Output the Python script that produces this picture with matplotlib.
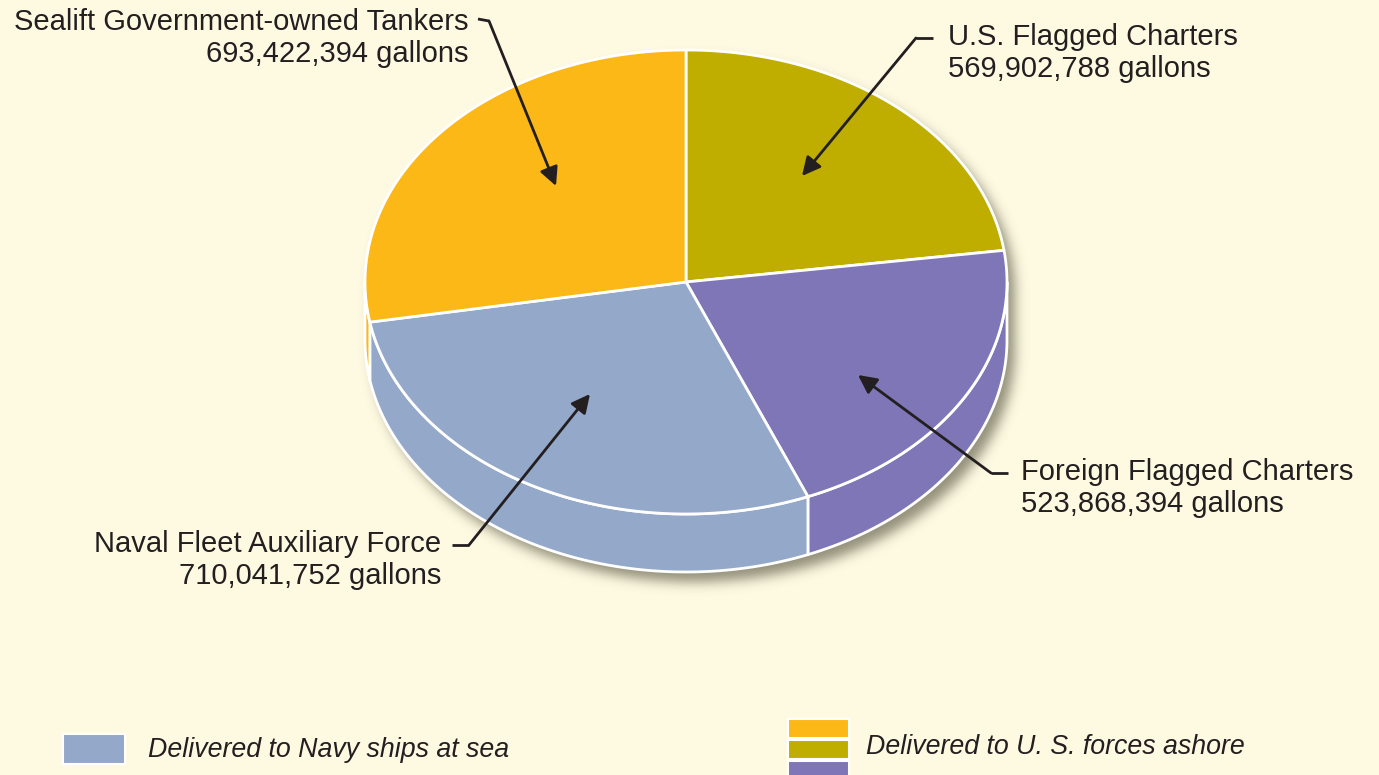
import numpy as np
import matplotlib
matplotlib.use("Agg")
import matplotlib.pyplot as plt
from matplotlib.patches import Polygon, Rectangle

# slices, clockwise from 12 o'clock
labels = ["U.S. Flagged Charters", "Foreign Flagged Charters",
          "Naval Fleet Auxiliary Force", "Sealift Government-owned Tankers"]
gallons = [569902788, 523868394, 710041752, 693422394]
colors = ["#BFAE00", "#7E76B6", "#94A8C9", "#FBB816"]
legend_labels = ["Delivered to Navy ships at sea", "Delivered to U. S. forces ashore"]

W, H = 1379, 775
BG = "#FEFAE2"
INK = "#231F20"

cx, cy = 686, 282      # centre of top face (pixels)
rx, ry = 321, 232      # top face radii
depth = 58             # wall height

fig = plt.figure(figsize=(W / 100, H / 100), dpi=100, facecolor=BG)
ax = fig.add_axes([0, 0, 1, 1])
ax.set_xlim(0, W)
ax.set_ylim(H, 0)
ax.set_facecolor(BG)
ax.axis("off")

rcfont = ["Liberation Sans", "DejaVu Sans"]


def pt(t, dz=0.0):
    t = np.radians(t)
    return np.column_stack([cx + rx * np.cos(t), cy - ry * np.sin(t) + dz])


# slice angles
vals = np.array(gallons, dtype=float)
span = vals / vals.sum() * 360
hi = 90 - np.concatenate([[0], np.cumsum(span)[:-1]])
lo = hi - span

# soft drop shadow (blurred mask of the silhouette)
yy, xx = np.mgrid[0:H, 0:W] + 0.5
sx, sy = 8, 10
inside = (((xx - cx - sx) / rx) ** 2 + ((yy - cy - sy) / ry) ** 2 <= 1) | \
         (((xx - cx - sx) / rx) ** 2 + ((yy - cy - depth - sy) / ry) ** 2 <= 1) | \
         ((np.abs(xx - cx - sx) <= rx) & (yy >= cy + sy) & (yy <= cy + depth + sy))
mask = inside.astype(float)
sig = 6.0
k = np.exp(-0.5 * (np.arange(-20, 21) / sig) ** 2)
k /= k.sum()
mask = np.apply_along_axis(lambda r: np.convolve(r, k, "same"), 1, mask)
mask = np.apply_along_axis(lambda c: np.convolve(c, k, "same"), 0, mask)
shadow = np.zeros((H, W, 4))
shadow[..., 0] = 0.40
shadow[..., 1] = 0.39
shadow[..., 2] = 0.31
shadow[..., 3] = mask * 0.7
ax.imshow(shadow, extent=(0, W, H, 0), zorder=1, interpolation="bilinear")

# side walls (front half only)
for a, b, c in zip(lo, hi, colors):
    for off in (0, -360):
        l2, h2 = max(a, -180 + off), min(b, 0 + off)
        if h2 <= l2:
            continue
        ts = np.linspace(l2, h2, 80)
        poly = np.vstack([pt(ts), pt(ts[::-1], depth)])
        ax.add_patch(Polygon(poly, closed=True, facecolor=c, edgecolor="white",
                             lw=2, joinstyle="round", zorder=2))

# top face
for a, b, c in zip(lo, hi, colors):
    ts = np.linspace(a, b, 200)
    poly = np.vstack([[cx, cy], pt(ts)])
    ax.add_patch(Polygon(poly, closed=True, facecolor=c, edgecolor="white",
                         lw=2, joinstyle="round", zorder=3))

# labels with leader arrows
lab_text = [
    (948, 37, "left"),
    (1021, 472, "left"),
    (441, 544, "right"),
    (468, 22, "right"),
]
leaders = [
    [(933, 38), (916, 38), (802, 176)],
    [(1008, 473), (991, 473), (858, 375)],
    [(452, 545), (469, 545), (590, 394)],
    [(478, 19), (489, 21), (556, 186)],
]
for name, g, (tx, ty, ha), path in zip(labels, gallons, lab_text, leaders):
    ax.text(tx, ty, name, ha=ha, va="center", fontsize=21, color=INK,
            family=rcfont, zorder=6)
    ax.text(tx, ty + 32, f"{g:,} gallons", ha=ha, va="center", fontsize=21,
            color=INK, family=rcfont, zorder=6)
    xs, ys = zip(*path[:2])
    ax.plot(xs, ys, color=INK, lw=2, solid_capstyle="butt", zorder=5)
    ax.annotate("", xy=path[2], xytext=path[1],
                arrowprops=dict(arrowstyle="-|>", color=INK, lw=2,
                                mutation_scale=28, shrinkA=0, shrinkB=0),
                zorder=5)

# legend
ax.add_patch(Rectangle((63, 734), 62, 30, facecolor=colors[2], edgecolor="white",
                       lw=1.5, zorder=4))
ax.text(148, 750, legend_labels[0], ha="left", va="center", fontsize=19.3,
        style="italic", color=INK, family=rcfont)
for i, c in enumerate([colors[3], colors[0], colors[1]]):
    ax.add_patch(Rectangle((788, 719 + i * 21), 61, 19, facecolor=c,
                           edgecolor="white", lw=1.5, zorder=4))
ax.text(866, 747, legend_labels[1], ha="left", va="center", fontsize=19.3,
        style="italic", color=INK, family=rcfont)

fig.savefig("out.png", dpi=100, facecolor=BG)
